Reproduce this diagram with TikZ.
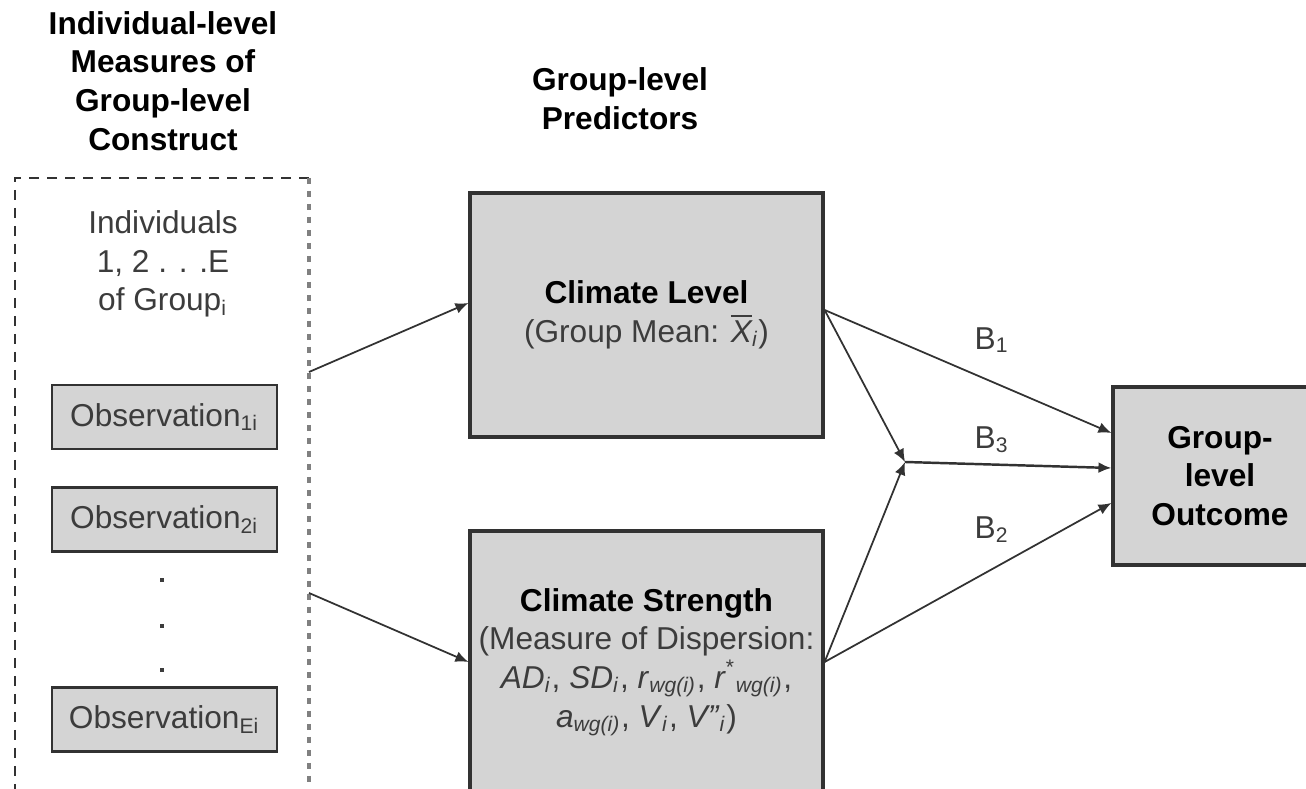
\documentclass[tikz,border=0pt]{standalone}
\usepackage{fontspec}
\setmainfont{Liberation Sans}
\definecolor{boxgray}{RGB}{212, 212, 212}
\definecolor{edgedark}{RGB}{50, 50, 50}
\definecolor{txtgray}{RGB}{60, 60, 60}
\usetikzlibrary{arrows.meta, positioning, calc}
\newcommand{\itsub}[2]{\textit{#1}\textsubscript{\textit{#2}}}

\begin{document}
\begin{tikzpicture}[
  font=\fontsize{9}{11}\selectfont,
  head/.style={font=\fontsize{9}{11}\selectfont\bfseries, align=center, inner sep=0pt},
  plain/.style={text=txtgray, align=center, inner sep=0pt},
  bigbox/.style={draw=edgedark, line width=0.9pt, fill=boxgray, minimum width=3.53cm, text=txtgray, align=center, inner sep=2pt},
  obsbox/.style={draw=edgedark, line width=0.8pt, fill=boxgray, minimum width=2.25cm, minimum height=0.64cm, text=txtgray, inner sep=0pt},
  link/.style={-{Latex[length=1.3mm, width=1.1mm]}, line width=0.5pt, edgedark}
]
  \useasboundingbox (0,0) rectangle (13.06,7.89);

  % Headings
  \node[head] (headind) at (1.63, 7.08) {Individual-level\\Measures of\\Group-level\\Construct};
  \node[head] (headgrp) at (6.20, 6.90) {Group-level\\Predictors};

  % Individual-level column (open at the bottom)
  \draw[edgedark, line width=0.5pt, dash pattern=on 1mm off 0.8mm] (3.09, 6.11) -- (0.15, 6.11) -- (0.15, -0.1);
  \draw[gray, line width=0.9pt, dash pattern=on 0.6mm off 0.7mm] (3.09, 6.11) -- (3.09, -0.1);
  \coordinate (dbtop) at (3.09, 4.17);
  \coordinate (dbbot) at (3.09, 1.96);
  \node[plain] (indiv) at (1.63, 5.25) {Individuals\\1, 2 . . .E\\of Group\textsubscript{i}};
  \node[obsbox] (obs1) at (1.645, 3.72) {Observation\textsubscript{1i}};
  \node[obsbox] (obs2) at (1.645, 2.695) {Observation\textsubscript{2i}};
  \foreach \y [count=\k] in {2.09, 1.63, 1.19}
    \node[rectangle, fill=txtgray, inner sep=0.45pt] (dot\k) at (1.62, \y) {};
  \node[obsbox] (obsE) at (1.645, 0.695) {Observation\textsubscript{Ei}};

  % Group-level predictors
  \node[bigbox, minimum height=2.44cm] (level) at (6.465, 4.74) {\textcolor{black}{\textbf{Climate Level}}\\(Group Mean: \(\overline{\mbox{\itshape X}}\)\textsubscript{\itshape i})};
  \node[bigbox, minimum height=2.62cm] (strength) at (6.465, 1.27) {\textcolor{black}{\textbf{Climate Strength}}\\(Measure of Dispersion:\\\itsub{AD}{i}, \itsub{SD}{i}, \itsub{r}{wg(i)}, \textit{r}\textsuperscript{*}\textsubscript{\textit{wg(i)}},\\\itsub{a}{wg(i)}, \itsub{V}{i}, \textit{V"}\textsubscript{\textit{i}})};
  \draw[link] (dbtop) -- ([yshift=0.12cm]level.west);
  \draw[link] (dbbot) -- (strength.west);

  % Outcome
  \node[bigbox, minimum width=2.14cm, minimum height=1.78cm, text=black, font=\fontsize{9}{11}\selectfont\bfseries] (outcome) at (12.20, 3.13) {Group-\\level\\Outcome};
  \coordinate (join) at (9.05, 3.27);
  \draw[link] ([yshift=0.05cm]level.east) -- ([yshift=0.43cm]outcome.west);
  \draw[link] ([yshift=0.05cm]level.east) -- (join);
  \draw[link] (strength.east) -- (join);
  \draw[link] (strength.east) -- ([yshift=-0.27cm]outcome.west);
  \draw[link, line width=0.7pt] (join) -- ([yshift=0.08cm]outcome.west);
  \node[plain] (b1) at (9.92, 4.49) {B\textsubscript{1}};
  \node[plain] (b3) at (9.92, 3.49) {B\textsubscript{3}};
  \node[plain] (b2) at (9.92, 2.59) {B\textsubscript{2}};
\end{tikzpicture}
\end{document}
